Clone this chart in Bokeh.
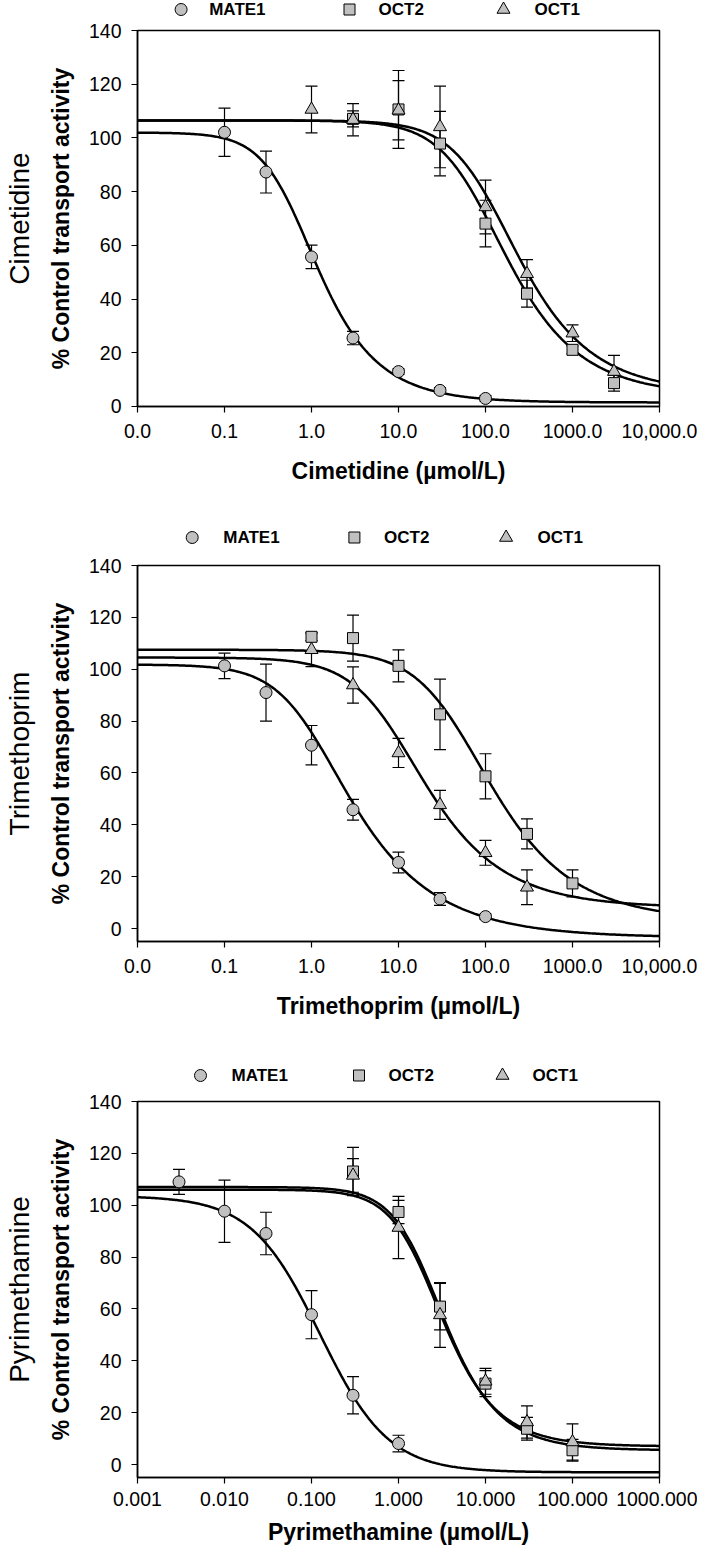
import numpy as np
from bokeh.plotting import figure
from bokeh.models import (Range1d, FixedTicker, LinearAxis, Whisker,
                          ColumnDataSource, TeeHead)
from bokeh.core.properties import value
from bokeh.layouts import column
from bokeh.embed import file_html
from bokeh.resources import INLINE

# ---------------- data ----------------
series_names = ["MATE1", "OCT2", "OCT1"]

# Cimetidine
cim_mate1_x = [0.1, 0.3, 1, 3, 10, 30, 100]
cim_mate1_y = [102.1, 87.3, 55.7, 25.5, 13.0, 6.0, 3.0]
cim_mate1_e = [9.0, 7.8, 4.4, 2.5, 1.0, 1.0, 1.0]
cim_oct2_x = [3, 10, 30, 100, 300, 1000, 3000]
cim_oct2_y = [107.1, 110.6, 97.9, 68.1, 42.0, 21.1, 8.7]
cim_oct2_e = [3.0, 14.5, 12.0, 8.7, 5.0, 1.5, 3.0]
cim_oct1_x = [1, 3, 10, 30, 100, 300, 1000, 3000]
cim_oct1_y = [110.6, 106.8, 110.3, 104.1, 74.3, 49.4, 27.3, 13.0]
cim_oct1_e = [8.7, 6.0, 11.0, 15.2, 10.0, 5.3, 3.1, 6.0]
# fitted curves: top, bottom, midpoint, slope, asymmetry
cim_fit_mate1 = [102.0, 1.5, 0.616, 1.7, 0.5]
cim_fit_oct2 = [106.5, 4.0, 81.0, 1.4, 0.5]
cim_fit_oct1 = [106.5, 5.0, 110.0, 1.4, 0.5]

# Trimethoprim
tmp_mate1_x = [0.1, 0.3, 1, 3, 10, 30, 100]
tmp_mate1_y = [101.3, 91.0, 70.7, 45.8, 25.5, 11.4, 4.6]
tmp_mate1_e = [4.9, 11.0, 7.6, 4.0, 4.0, 2.5, 1.0]
tmp_oct2_x = [1, 3, 10, 30, 100, 300, 1000]
tmp_oct2_y = [112.5, 112.0, 101.3, 82.6, 58.7, 36.5, 17.4]
tmp_oct2_e = [1.5, 8.9, 6.2, 13.6, 8.7, 5.8, 5.2]
tmp_oct1_x = [1, 3, 10, 30, 100, 300]
tmp_oct1_y = [107.5, 93.9, 67.7, 47.7, 29.2, 15.9]
tmp_oct1_e = [6.5, 7.0, 5.6, 5.6, 4.8, 6.7]
tmp_fit_mate1 = [101.8, -3.5, 0.97, 1.4, 0.4]
tmp_fit_oct2 = [107.5, 3.0, 48.4, 1.25, 0.5]
tmp_fit_oct1 = [104.5, 8.0, 8.6, 1.3, 0.5]

# Pyrimethamine
pyr_mate1_x = [0.003, 0.01, 0.03, 0.1, 0.3, 1]
pyr_mate1_y = [109.0, 97.7, 89.1, 57.8, 26.7, 8.1]
pyr_mate1_e = [4.8, 12.0, 8.2, 9.3, 7.2, 3.2]
pyr_oct2_x = [0.3, 1, 3, 10, 30, 100]
pyr_oct2_y = [113.0, 97.4, 60.9, 31.2, 13.8, 5.5]
pyr_oct2_e = [9.3, 4.5, 9.0, 5.0, 4.4, 4.2]
pyr_oct1_x = [0.3, 1, 3, 10, 30, 100]
pyr_oct1_y = [111.5, 91.4, 57.7, 32.1, 16.4, 8.7]
pyr_oct1_e = [6.5, 12.0, 12.5, 5.0, 6.2, 7.0]
pyr_fit_mate1 = [103.6, -3.0, 0.125, 1.1, 1.0]
pyr_fit_oct2 = [107.0, 5.5, 2.11, 1.7, 0.6]
pyr_fit_oct1 = [106.0, 7.0, 2.01, 1.7, 0.6]

ticks_a = [0.01, 0.1, 1, 10, 100, 1000, 10000]
labels_a = ["0.0", "0.1", "1.0", "10.0", "100.0", "1000.0", "10,000.0"]
ticks_b = [0.001, 0.01, 0.1, 1, 10, 100, 1000]
labels_b = ["0.001", "0.010", "0.100", "1.000", "10.000", "100.000", "1000.000"]
y_ticks = [0, 20, 40, 60, 80, 100, 120, 140]

drugs = ["Cimetidine", "Trimethoprim", "Pyrimethamine"]
x_titles = ["Cimetidine (\u00b5mol/L)", "Trimethoprim (\u00b5mol/L)", "Pyrimethamine (\u00b5mol/L)"]
y_title = "% Control transport activity"

# ---------------- styling / layout ----------------
FONT = "Liberation Sans"
FILL = "#c0c0c0"
MARKERS = {"MATE1": ("circle", 12), "OCT2": ("square", 11), "OCT1": ("triangle", 13)}
BORDER_L, FRAME_W, BORDER_R = 133, 522, 38

# legend strip layout (pixels from the page content's left edge): marker x, label x, row y
LEG_LAYOUT = [
    dict(h=20, yc=11, mx=[176.6, 345.0, 499.0], tx=[204.7, 374.0, 530.0]),
    dict(h=40, yc=18, mx=[187.7, 349.9, 501.6], tx=[218.8, 379.5, 533.0]),
    dict(h=40, yc=16, mx=[196.0, 354.5, 498.0], tx=[227.0, 384.0, 528.0]),
]


def logistic(x, p):
    top, bottom, c, b, s = p
    return bottom + (top - bottom) / (1.0 + (x / c) ** b) ** s


def legend_strip(lay):
    s = figure(frame_width=FRAME_W, frame_height=lay["h"],
               x_range=Range1d(BORDER_L, BORDER_L + FRAME_W),
               y_range=Range1d(0, lay["h"]),
               min_border_left=BORDER_L, min_border_right=BORDER_R,
               min_border_top=0, min_border_bottom=0,
               x_axis_location=None, y_axis_location=None,
               output_backend="svg", toolbar_location=None)
    s.outline_line_color = None
    s.xgrid.visible = False
    s.ygrid.visible = False
    for name, mx, tx in zip(series_names, lay["mx"], lay["tx"]):
        mk, sz = MARKERS[name]
        s.scatter([mx], [lay["yc"]], marker=mk, size=sz, fill_color=FILL,
                  line_color="black", line_width=1)
        s.text([tx], [lay["yc"]], text=[name], text_font=value(FONT),
               text_font_style="bold", text_font_size="17px",
               text_baseline="middle", text_align="left", text_color="black")
    return s


def make_panel(drug, xtitle, xr, yr, xticks, xlabels, data, fits,
               border_bottom, tick_standoff, label_standoff):
    p = figure(x_axis_type="log",
               x_range=Range1d(xr[0] * 0.9999, xr[1] * 1.0001),
               y_range=Range1d(yr[0] - 0.001, yr[1] + 0.001),
               frame_width=FRAME_W, frame_height=376,
               min_border_left=BORDER_L, min_border_right=BORDER_R,
               min_border_top=10, min_border_bottom=border_bottom,
               output_backend="svg", toolbar_location=None)
    p.xgrid.visible = False
    p.ygrid.visible = False
    p.outline_line_color = "black"
    p.outline_line_width = 1.5
    p.background_fill_color = "white"
    p.border_fill_color = "white"

    xs = np.logspace(np.log10(xr[0]), np.log10(xr[1]), 400)
    for name in series_names:
        p.line(xs, logistic(xs, fits[name]), line_color="black", line_width=2.5)

    for name in series_names:
        x, y, e = data[name]
        src = ColumnDataSource(dict(x=x, y=y,
                                    upper=[a + b for a, b in zip(y, e)],
                                    lower=[a - b for a, b in zip(y, e)]))
        w = Whisker(source=src, base="x", upper="upper", lower="lower",
                    line_color="black", line_width=1.2,
                    upper_head=TeeHead(size=12, line_color="black", line_width=1.2),
                    lower_head=TeeHead(size=12, line_color="black", line_width=1.2))
        p.add_layout(w)
    for name in series_names:
        x, y, e = data[name]
        mk, sz = MARKERS[name]
        p.scatter(x, y, marker=mk, size=sz, fill_color=FILL,
                  line_color="black", line_width=1)

    # axes
    p.xaxis.ticker = FixedTicker(ticks=xticks, minor_ticks=[])
    p.xaxis.major_label_overrides = dict(zip(xticks, xlabels))
    p.yaxis.ticker = FixedTicker(ticks=y_ticks, minor_ticks=[])
    p.xaxis.axis_label = xtitle
    p.yaxis.axis_label = y_title
    for ax in (p.xaxis[0], p.yaxis[0]):
        ax.axis_line_width = 1.5
        ax.axis_line_color = "black"
        ax.major_tick_line_width = 1.2
        ax.major_tick_line_color = "black"
        ax.major_tick_out = 6
        ax.major_tick_in = 0
        ax.minor_tick_line_color = None
        ax.major_label_text_font = FONT
        ax.major_label_text_font_size = "19.5px"
        ax.major_label_text_color = "black"
        ax.axis_label_text_font = FONT
        ax.axis_label_text_font_style = "bold"
        ax.axis_label_text_font_size = "23px"
        ax.axis_label_text_color = "black"
    p.yaxis.major_label_standoff = 10
    p.yaxis.axis_label_standoff = 12
    p.xaxis.major_label_standoff = tick_standoff
    p.xaxis.axis_label_standoff = label_standoff

    ax2 = LinearAxis(axis_label=drug, ticker=FixedTicker(ticks=[]),
                     axis_line_color=None, major_tick_line_color=None,
                     minor_tick_line_color=None, major_label_text_font_size="0px",
                     major_tick_out=0, major_tick_in=0, major_label_standoff=0,
                     axis_label_standoff=10, axis_label_text_font=FONT,
                     axis_label_text_font_size="28px",
                     axis_label_text_font_style="normal",
                     axis_label_text_color="black")
    p.add_layout(ax2, "left")
    return p


p1 = make_panel(drugs[0], x_titles[0], (0.01, 10000), (0, 140), ticks_a, labels_a,
                {"MATE1": (cim_mate1_x, cim_mate1_y, cim_mate1_e),
                 "OCT2": (cim_oct2_x, cim_oct2_y, cim_oct2_e),
                 "OCT1": (cim_oct1_x, cim_oct1_y, cim_oct1_e)},
                {"MATE1": cim_fit_mate1, "OCT2": cim_fit_oct2, "OCT1": cim_fit_oct1},
                109, 11, 17)
p2 = make_panel(drugs[1], x_titles[1], (0.01, 10000), (-5, 140), ticks_a, labels_a,
                {"MATE1": (tmp_mate1_x, tmp_mate1_y, tmp_mate1_e),
                 "OCT2": (tmp_oct2_x, tmp_oct2_y, tmp_oct2_e),
                 "OCT1": (tmp_oct1_x, tmp_oct1_y, tmp_oct1_e)},
                {"MATE1": tmp_fit_mate1, "OCT2": tmp_fit_oct2, "OCT1": tmp_fit_oct1},
                110, 11, 17)
p3 = make_panel(drugs[2], x_titles[2], (0.001, 1000), (-5, 140), ticks_b, labels_b,
                {"MATE1": (pyr_mate1_x, pyr_mate1_y, pyr_mate1_e),
                 "OCT2": (pyr_oct2_x, pyr_oct2_y, pyr_oct2_e),
                 "OCT1": (pyr_oct1_x, pyr_oct1_y, pyr_oct1_e)},
                {"MATE1": pyr_fit_mate1, "OCT2": pyr_fit_oct2, "OCT1": pyr_fit_oct1},
                74, 8, 10)

layout = column(legend_strip(LEG_LAYOUT[0]), p1,
                legend_strip(LEG_LAYOUT[1]), p2,
                legend_strip(LEG_LAYOUT[2]), p3, spacing=0)
open("out.html", "w").write(file_html(layout, INLINE))
